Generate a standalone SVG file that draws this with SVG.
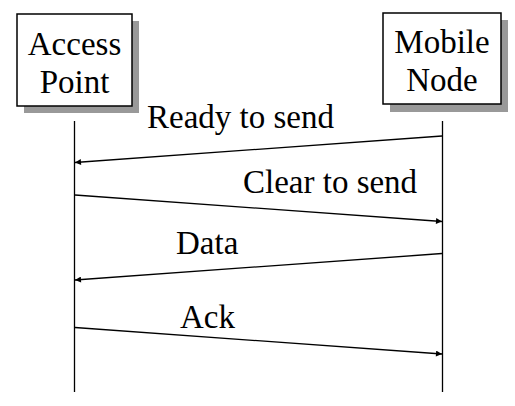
<svg xmlns="http://www.w3.org/2000/svg" width="515" height="406" viewBox="0 0 515 406">
<style>
.box{fill:#fff;stroke:#000;stroke-width:1.5}
.shadow{fill:#999}
.life{stroke:#000;stroke-width:1.3}
.msg{stroke:#000;stroke-width:1.3;fill:none;marker-end:url(#ah)}
</style>
<defs>
<marker id="ah" viewBox="0 0 10 10" refX="10" refY="5" markerWidth="8" markerHeight="6" markerUnits="userSpaceOnUse" orient="auto">
<path d="M0,0 L10,5 L0,10 z" fill="#000"/>
</marker>
</defs>
<rect width="515" height="406" fill="#fff"/>
<g font-family="Liberation Serif, DejaVu Serif, serif" font-size="33" fill="#000">
<g id="access-point">
<rect class="shadow" x="24" y="21" width="115" height="92"/>
<rect class="box" x="17" y="14" width="115" height="92"/>
<text x="74.5" y="55" text-anchor="middle">Access</text>
<text x="74.5" y="93" text-anchor="middle">Point</text>
</g>
<g id="mobile-node">
<rect class="shadow" x="390" y="20" width="118" height="92"/>
<rect class="box" x="383" y="13" width="118" height="91"/>
<text x="442" y="53" text-anchor="middle">Mobile</text>
<text x="442" y="91" text-anchor="middle">Node</text>
</g>
<g id="connectors">
<line class="life" x1="74.5" y1="121" x2="74.5" y2="392"/>
<line class="life" x1="442.5" y1="121" x2="442.5" y2="392"/>
<line class="msg" x1="442" y1="136" x2="75" y2="162.5"/>
<line class="msg" x1="75" y1="195" x2="442" y2="221.5"/>
<line class="msg" x1="442" y1="253.5" x2="75" y2="280"/>
<line class="msg" x1="75" y1="327.5" x2="442" y2="354"/>
</g>
<g id="labels">
<text x="147" y="128">Ready to send</text>
<text x="243" y="193">Clear to send</text>
<text x="176" y="254">Data</text>
<text x="180" y="328">Ack</text>
</g>
</g>
</svg>
